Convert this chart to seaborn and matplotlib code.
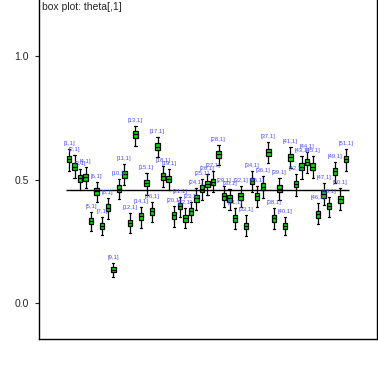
import matplotlib
matplotlib.use("Agg")
import matplotlib.pyplot as plt
import seaborn as sns
import pandas as pd

# Dados: 2.5%, 25%, mediana, 75%, 97.5%
labels = [f"[{i},1]" for i in range(1, 52)]
lo = [.534, .506, .457, .466, .291, .409, .275, .340, .105, .421, .478, .283, .636, .304, .437, .328, .591,
      .470, .457, .308, .348, .304, .328, .377, .417, .437, .449, .559, .389, .377, .300, .389, .271, .449,
      .389, .425, .567, .300, .417, .275, .547, .433, .502, .526, .506, .320, .397, .348, .486, .377, .534]
q1 = [.569, .537, .492, .496, .318, .439, .298, .371, .124, .448, .508, .310, .670, .338, .472, .358, .618,
      .500, .488, .342, .379, .330, .358, .411, .448, .468, .476, .589, .419, .411, .330, .419, .298, .480,
      .419, .456, .597, .330, .448, .298, .577, .468, .537, .557, .537, .346, .427, .379, .520, .407, .569]
med = [.583, .551, .506, .510, .332, .453, .312, .385, .134, .462, .522, .324, .684, .352, .486, .372, .632,
       .514, .502, .356, .393, .344, .372, .425, .462, .482, .490, .603, .433, .425, .344, .433, .312, .494,
       .433, .470, .611, .344, .462, .312, .591, .482, .551, .571, .551, .360, .441, .393, .534, .421, .583]
q3 = [.597, .565, .520, .524, .346, .467, .326, .399, .144, .476, .536, .338, .698, .366, .500, .386, .646,
      .528, .516, .370, .407, .358, .386, .439, .476, .496, .504, .617, .447, .439, .358, .447, .326, .508,
      .447, .484, .625, .358, .476, .326, .605, .496, .565, .585, .565, .374, .455, .407, .548, .435, .597]
hi = [.624, .599, .543, .551, .368, .490, .348, .425, .162, .502, .563, .364, .717, .389, .526, .409, .672,
      .555, .543, .393, .429, .385, .409, .466, .502, .522, .534, .640, .474, .462, .385, .474, .356, .534,
      .474, .514, .652, .385, .506, .348, .632, .522, .595, .611, .595, .405, .486, .429, .571, .466, .624]
ref_value = 0.457
yticks = [0.0, 0.5, 1.0]

# formato longo: cinco valores por nó, whis=(0, 100) devolve exatamente os quantis
rows = []
for lab, a, b, c, d, e in zip(labels, lo, q1, med, q3, hi):
    for v in (a, b, c, d, e):
        rows.append({"node": lab, "value": v})
df = pd.DataFrame(rows)

sns.set_style("white")
plt.rcParams["font.family"] = ["Liberation Sans", "DejaVu Sans"]

fig = plt.figure(figsize=(3.78, 3.78), dpi=100)
ax = fig.add_axes([0.102, 0.103, 0.895, 0.897])

sns.boxplot(data=df, x="node", y="value", order=labels, whis=(0, 100), showfliers=False,
            color="#00dd00", saturation=1, linecolor="black", linewidth=0.9, width=0.8, ax=ax)

ax.hlines(ref_value, -0.5, len(labels) - 0.5, color="black", linewidth=1)

for i, (lab, top) in enumerate(zip(labels, hi)):
    ax.annotate(lab, (i, top), xytext=(0, 2), textcoords="offset points",
                ha="center", va="bottom", fontsize=4.2, color="#4a4aff")

ax.text(0.01, 0.995, "box plot: theta[,1]", transform=ax.transAxes, ha="left", va="top", fontsize=7.5)

ax.set_xlim(-5.5, 55.6)
ax.set_ylim(-0.146, 1.227)
ax.set_xticks([])
ax.set_yticks(yticks)
ax.set_yticklabels([f"{t:.1f}" for t in yticks], fontsize=7.5)
ax.tick_params(axis="y", direction="out", length=3, width=0.8, left=True, pad=4)
ax.set_xlabel("")
ax.set_ylabel("")
for s in ["left", "bottom", "right"]:
    ax.spines[s].set_color("black")
    ax.spines[s].set_linewidth(1)
ax.spines["top"].set_visible(False)

fig.savefig("out.png", dpi=100)
